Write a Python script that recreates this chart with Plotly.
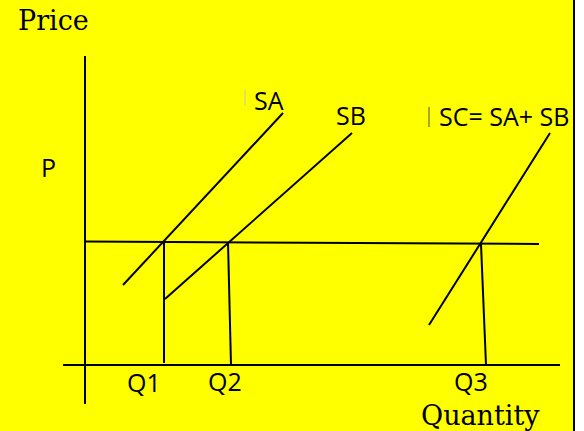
import plotly.graph_objects as go

# everything is in picture units: x to the right, y downward (0..584, 0..431)
W, H = 584, 431

# axes of the diagram
qaxis_x = [63, 560]
qaxis_y = [365, 365]
paxis_x = [85, 85]
paxis_y = [56, 404]

# market price line
price_x = [85, 539]
price_y = [241.5, 244]

# supply curves (end points)
sa_x = [123, 283]
sa_y = [285, 113]
sb_x = [165, 352]
sb_y = [299, 133]
sc_x = [429, 550]
sc_y = [325, 133]

# drop lines from the price line to the quantity axis
q1_x = [164, 164]
q1_y = [242, 363]
q2_x = [228, 231]
q2_y = [242.5, 365]
q3_x = [481, 486]
q3_y = [244, 365]

# little stray cursor marks in front of two labels
mark1_x = [245, 245]
mark1_y = [90, 106]
mark2_x = [429, 429]
mark2_y = [107, 127]

# labels
curve_labels = ["SA", "SB", "SC= SA+ SB", "P", "Q1", "Q2", "Q3"]
curve_lab_x = [269, 351, 504, 48, 144, 225, 471]
curve_lab_y = [100, 115, 116, 167, 382, 381, 381]
axis_labels = ["Price", "Quantity"]
axis_lab_x = [53, 480]
axis_lab_y = [20, 415]
title_text = "Supply"

frame_right = 574

fig = go.Figure()

segments = [
    (qaxis_x, qaxis_y), (paxis_x, paxis_y), (price_x, price_y),
    (sa_x, sa_y), (sb_x, sb_y), (sc_x, sc_y),
    (q1_x, q1_y), (q2_x, q2_y), (q3_x, q3_y),
]
for xs, ys in segments:
    fig.add_trace(go.Scatter(x=xs, y=ys, mode='lines',
                             line=dict(color='black', width=2), showlegend=False))

fig.add_trace(go.Scatter(x=mark1_x, y=mark1_y, mode='lines',
                         line=dict(color='#c8c8a0', width=1), showlegend=False))
fig.add_trace(go.Scatter(x=mark2_x, y=mark2_y, mode='lines',
                         line=dict(color='#505050', width=1), showlegend=False))

for t, x, y in zip(curve_labels, curve_lab_x, curve_lab_y):
    fig.add_annotation(x=x, y=y, text=t, showarrow=False, xanchor='center', yanchor='middle',
                       font=dict(family='Open Sans', size=25, color='black'))
for t, x, y in zip(axis_labels, axis_lab_x, axis_lab_y):
    fig.add_annotation(x=x, y=y, text=t, showarrow=False, xanchor='center', yanchor='middle',
                       font=dict(family='DejaVu Serif', size=27, color='black'))

# title cut off by the top edge, only its descenders peek in
fig.add_annotation(x=145, y=1, yref='paper', text=title_text, showarrow=False,
                   xanchor='left', yanchor='bottom', yshift=-3,
                   font=dict(family='DejaVu Serif', size=30, color='black'))

# yellow slide with its right edge visible
fig.add_shape(type='rect', x0=-10, x1=frame_right, y0=-10, y1=H + 10,
              fillcolor='#ffff00', line=dict(color='black', width=2), layer='below')

fig.update_layout(
    width=W, height=H,
    margin=dict(l=0, r=0, t=0, b=0),
    paper_bgcolor='white', plot_bgcolor='white',
    xaxis=dict(range=[0, W], visible=False, fixedrange=True),
    yaxis=dict(range=[H, 0], visible=False, fixedrange=True),
)

# drop the browser's default 8px body margin so the picture sits at the corner
fig.write_html("out.html", config={'displayModeBar': False},
               post_script="document.body.style.margin='0';")
